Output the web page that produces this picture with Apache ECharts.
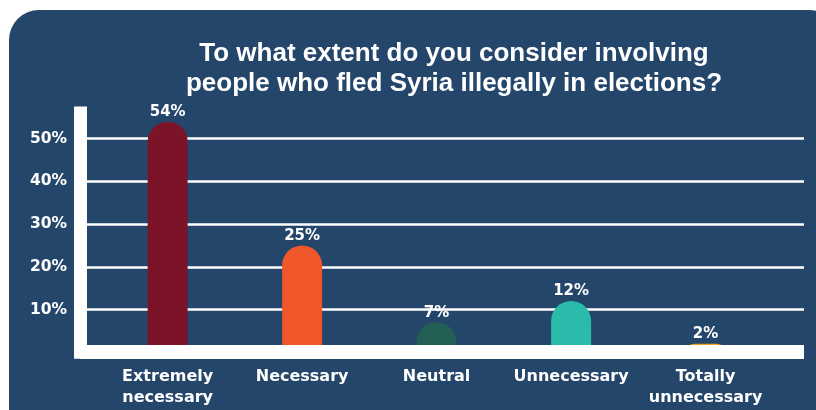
<!DOCTYPE html>
<html>
<head>
<meta charset="utf-8">
<script src="https://cdn.jsdelivr.net/npm/echarts@6/dist/echarts.min.js"></script>
<style>
  html, body { margin: 0; padding: 0; background: #ffffff; }
  #chart { width: 816px; height: 410px; }
</style>
</head>
<body>
<div id="chart"></div>
<script>
// Survey answers and their shares (percent of respondents)
const categories = ['Extremely\nnecessary', 'Necessary', 'Neutral', 'Unnecessary', 'Totally\nunnecessary'];
const shares = [54, 25, 7, 12, 2];
const barColors = ['#7B1428', '#F0572A', '#245F55', '#2BBBAA', '#F5A21F'];
const yTickStep = 10;
const yMax = 56;

const titleLines = ['To what extent do you consider involving', 'people who fled Syria illegally in elections?'];

const CARD = '#24466A';
const WHITE = '#ffffff';
const LABEL_FONT = '"DejaVu Sans", sans-serif';

const chart = echarts.init(document.getElementById('chart'), null, { renderer: 'canvas' });

const plotTop = 113.1;
const plotBottom = 57.8;

chart.setOption({
  animation: false,
  backgroundColor: '#ffffff',
  graphic: [{
    type: 'rect',
    z: -10,
    silent: true,
    shape: { x: 9, y: 10, width: 830, height: 440, r: 30 },
    style: { fill: CARD }
  }],
  title: {
    text: titleLines.join('\n'),
    left: 449,
    top: 34,
    textAlign: 'center',
    textStyle: {
      color: WHITE,
      fontFamily: '"Liberation Sans Narrow", "Liberation Sans", sans-serif',
      fontWeight: 'bold',
      fontSize: 26,
      lineHeight: 30
    }
  },
  grid: [
    { left: 80, right: 12, top: plotTop, bottom: plotBottom },
    { left: 100.4, right: 43.2, top: plotTop, bottom: plotBottom }
  ],
  xAxis: [
    {
      gridIndex: 0,
      type: 'category',
      data: categories,
      z: 5,
      axisLine: { show: true, lineStyle: { color: WHITE, width: 14, cap: 'butt' } },
      axisTick: { show: false },
      axisLabel: { show: false },
      splitLine: { show: false }
    },
    {
      gridIndex: 1,
      type: 'category',
      data: categories,
      axisLine: { show: false },
      axisTick: { show: false },
      axisLabel: {
        color: WHITE,
        fontFamily: LABEL_FONT,
        fontWeight: 'bold',
        fontSize: 16,
        lineHeight: 21,
        margin: 14,
        interval: 0
      }
    }
  ],
  yAxis: [
    {
      gridIndex: 0,
      type: 'value',
      min: 0,
      max: yMax,
      interval: yTickStep,
      axisLine: { show: true, lineStyle: { color: WHITE, width: 13, cap: 'square' } },
      axisTick: { show: false },
      axisLabel: {
        color: WHITE,
        fontFamily: LABEL_FONT,
        fontWeight: 'bold',
        fontSize: 15.5,
        margin: 13,
        showMinLabel: false,
        showMaxLabel: false,
        formatter: '{value}%'
      },
      splitLine: {
        show: true,
        showMinLine: false,
        showMaxLine: false,
        lineStyle: { color: WHITE, width: 2.5 }
      }
    },
    {
      gridIndex: 1,
      type: 'value',
      min: 0,
      max: yMax,
      interval: yTickStep,
      show: false,
      splitLine: { show: false }
    }
  ],
  series: [{
    type: 'bar',
    xAxisIndex: 1,
    yAxisIndex: 1,
    barWidth: 40,
    data: shares.map((v, i) => ({ value: v, itemStyle: { color: barColors[i] } })),
    itemStyle: { borderRadius: [20, 20, 0, 0] },
    label: {
      show: true,
      position: 'top',
      distance: 2,
      color: WHITE,
      fontFamily: LABEL_FONT,
      fontWeight: 'bold',
      fontSize: 15,
      formatter: '{c}%'
    }
  }]
});
</script>
</body>
</html>
